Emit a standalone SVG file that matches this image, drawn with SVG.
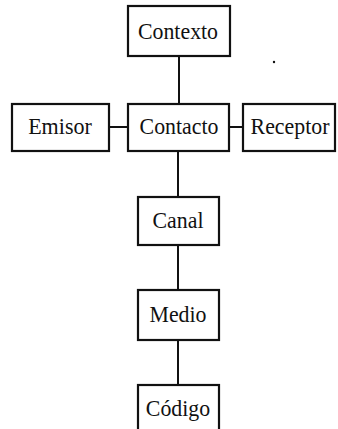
<svg xmlns="http://www.w3.org/2000/svg" width="338" height="429" viewBox="0 0 338 429">
  <style>
    .box { fill: #fff; stroke: #111; stroke-width: 2.2; }
    .lbl { font-family: "Liberation Serif", "Times New Roman", serif; font-size: 24px; fill: #111; text-anchor: middle; }
    .link { stroke: #111; stroke-width: 2; fill: none; }
  </style>
  <rect width="338" height="429" fill="#fff"/>
  <g id="connectors">
    <line class="link" x1="179" y1="56" x2="179" y2="104"/>
    <line class="link" x1="109" y1="127" x2="128" y2="127"/>
    <line class="link" x1="229" y1="127" x2="243" y2="127"/>
    <line class="link" x1="178" y1="151" x2="178" y2="197"/>
    <line class="link" x1="178" y1="245" x2="178" y2="290"/>
    <line class="link" x1="178" y1="340" x2="178" y2="385"/>
  </g>
  <g id="contexto">
    <rect class="box" x="128" y="6" width="102" height="50"/>
    <text class="lbl" transform="translate(178 39) scale(0.91 1)">Contexto</text>
  </g>
  <g id="emisor">
    <rect class="box" x="12" y="104" width="97" height="47"/>
    <text class="lbl" transform="translate(60 134) scale(0.92 1)">Emisor</text>
  </g>
  <g id="contacto">
    <rect class="box" x="128" y="104" width="101" height="47"/>
    <text class="lbl" transform="translate(179 134) scale(0.91 1)">Contacto</text>
  </g>
  <g id="receptor">
    <rect class="box" x="243" y="104" width="92" height="47"/>
    <text class="lbl" transform="translate(290 134) scale(0.91 1)">Receptor</text>
  </g>
  <g id="canal">
    <rect class="box" x="138" y="197" width="81" height="48"/>
    <text class="lbl" transform="translate(178 228) scale(0.91 1)">Canal</text>
  </g>
  <g id="medio">
    <rect class="box" x="138" y="290" width="81" height="50"/>
    <text class="lbl" transform="translate(178 322) scale(0.91 1)">Medio</text>
  </g>
  <g id="codigo">
    <rect class="box" x="138" y="385" width="81" height="60"/>
    <text class="lbl" transform="translate(178 416) scale(0.91 1)">Código</text>
  </g>
  <circle cx="274" cy="62" r="1.2" fill="#111"/>
</svg>
